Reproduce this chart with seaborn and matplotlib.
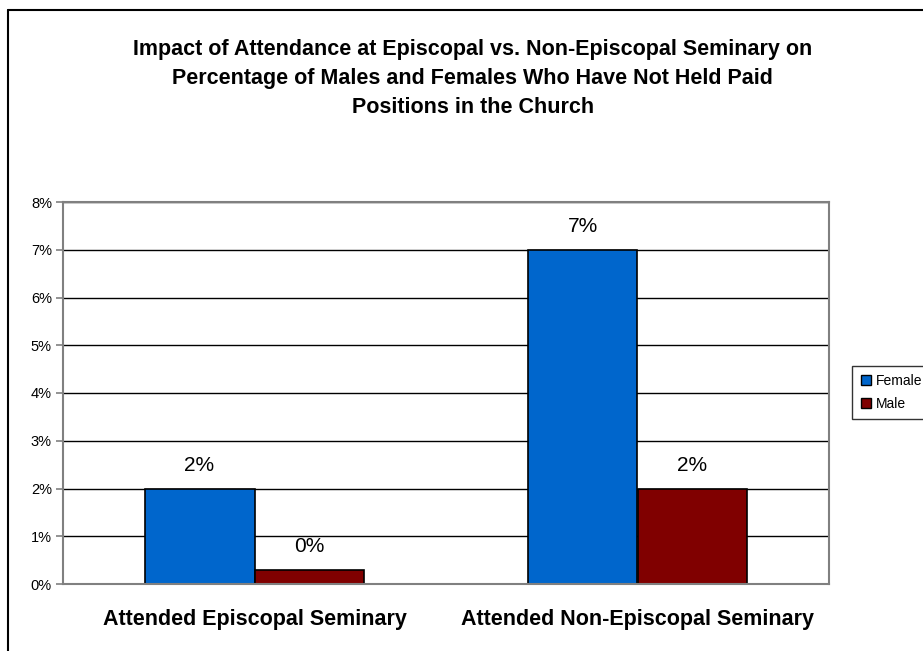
import pandas as pd
import seaborn as sns
import matplotlib.pyplot as plt
from matplotlib.lines import Line2D

categories = ['Attended Episcopal Seminary', 'Attended Non-Episcopal Seminary']
female = [2.0, 7.0]
male = [0.3, 2.0]
series = ['Female', 'Male']
colors = ['#0066CC', '#800000']
yticks = [0, 1, 2, 3, 4, 5, 6, 7, 8]

df = pd.DataFrame({
    'category': categories * 2,
    'value': female + male,
    'sex': [series[0]] * len(categories) + [series[1]] * len(categories),
})

sns.set_style('white')
plt.rcParams['font.family'] = ['Liberation Sans', 'DejaVu Sans']
plt.rcParams['text.color'] = 'black'
plt.rcParams['xtick.labelcolor'] = 'black'
plt.rcParams['ytick.labelcolor'] = 'black'

fig = plt.figure(figsize=(9.23, 6.51), dpi=100)
ax = fig.add_axes([63 / 923, 1 - 584 / 651, 766 / 923, 382 / 651])

sns.barplot(data=df, x='category', y='value', hue='sex', order=categories,
            hue_order=series, palette=colors, width=0.574, saturation=1,
            edgecolor='black', linewidth=1.2, ax=ax, legend=False)

for cont in ax.containers:
    ax.bar_label(cont, labels=[f'{b.get_height():.0f}%' for b in cont],
                 padding=10, fontsize=15, color='black')

ax.set_xlim(-0.5, 1.5)
ax.set_ylim(0, 8)
ax.set_yticks(yticks)
ax.set_yticklabels([f'{t}%' for t in yticks], fontsize=10.5)
ax.yaxis.grid(True, color='black', linewidth=1)
ax.set_axisbelow(True)
ax.set_xlabel('')
ax.set_ylabel('')
ax.set_xticks([0, 1])
ax.set_xticklabels(categories, fontsize=15.5, fontweight='bold')
ax.set_xticks([-0.5, 0.5, 1.5], minor=True)
ax.tick_params(axis='x', which='major', length=0, pad=18)
ax.tick_params(axis='x', which='minor', length=5, color='#808080', width=1.5, direction='out')
ax.tick_params(axis='y', length=5, color='#808080', width=1.2, direction='out', left=True, pad=3)
for s in ax.spines.values():
    s.set_color('#808080')
    s.set_linewidth(1.5)

ax.set_title('Impact of Attendance at Episcopal vs. Non-Episcopal Seminary on\n'
             'Percentage of Males and Females Who Have Not Held Paid\n'
             'Positions in the Church',
             fontsize=15.5, fontweight='bold', linespacing=1.5, pad=64, x=0.535)

handles = [Line2D([], [], marker='s', linestyle='', markersize=7,
                  markerfacecolor=c, markeredgecolor='black') for c in colors]
leg = fig.legend(handles, series, loc='upper left', bbox_to_anchor=(852 / 923, 1 - 366 / 651),
                 borderaxespad=0, fontsize=10, frameon=True, fancybox=False, handletextpad=0.3,
                 borderpad=0.6, labelspacing=0.6, handlelength=0.8)
leg.get_frame().set_edgecolor('black')
leg.get_frame().set_linewidth(1)

fig.add_artist(Line2D([8 / 923, 8 / 923], [0, 1 - 10 / 651], color='black', linewidth=1.5))
fig.add_artist(Line2D([8 / 923, 1], [1 - 10 / 651, 1 - 10 / 651], color='black', linewidth=1.5))

fig.savefig('out.png', dpi=100)
